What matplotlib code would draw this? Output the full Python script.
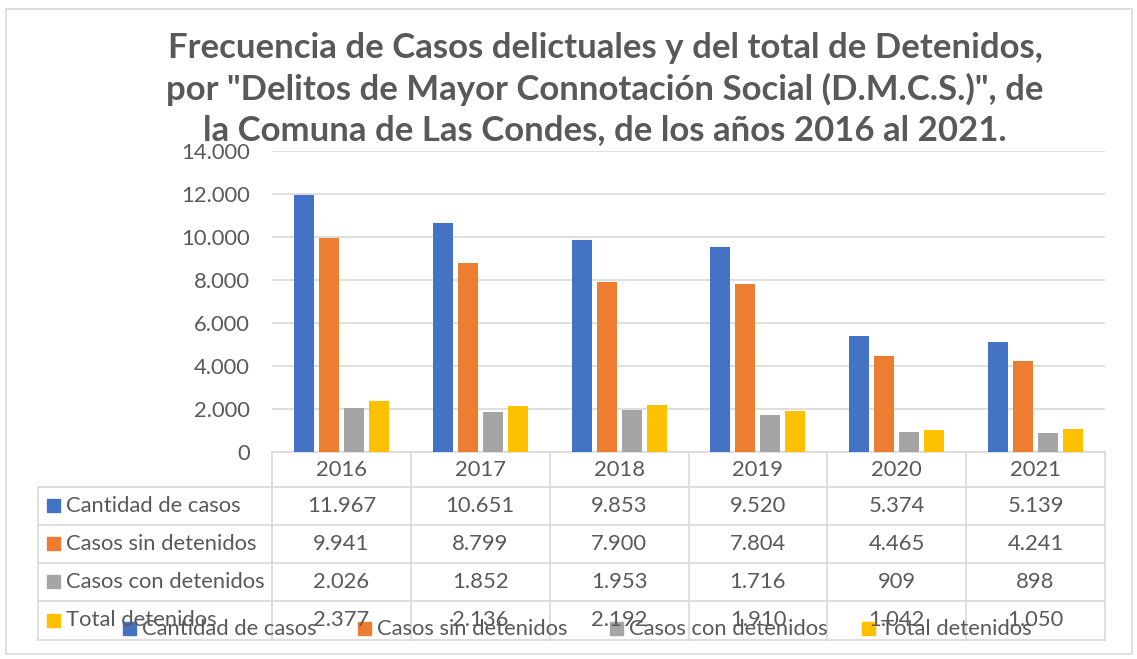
import matplotlib
matplotlib.use("Agg")
import matplotlib.pyplot as plt
import numpy as np

years = ["2016", "2017", "2018", "2019", "2020", "2021"]
series_names = ["Cantidad de casos", "Casos sin detenidos", "Casos con detenidos", "Total detenidos"]
cantidad_casos = [11967, 10651, 9853, 9520, 5374, 5139]
casos_sin_detenidos = [9941, 8799, 7900, 7804, 4465, 4241]
casos_con_detenidos = [2026, 1852, 1953, 1716, 909, 898]
total_detenidos = [2377, 2136, 2192, 1910, 1042, 1050]
series_values = [cantidad_casos, casos_sin_detenidos, casos_con_detenidos, total_detenidos]
colors = ["#4472C4", "#ED7D31", "#A5A5A5", "#FFC000"]
title = ('Frecuencia de Casos delictuales y del total de Detenidos,\n'
         'por "Delitos de Mayor Connotación Social (D.M.C.S.)", de\n'
         'la Comuna de Las Condes, de los años 2016 al 2021.')

FONT = ["Lato", "DejaVu Sans"]
TXT = "#595959"
GRID = "#d9d9d9"
W, H = 1137, 659
FS = 15.8

def fmt(v):
    return f"{int(v):,}".replace(",", ".")

fig = plt.figure(figsize=(W / 100, H / 100), dpi=100)
fig.patch.set_facecolor("white")

# overlay in pixel coordinates
ov = fig.add_axes([0, 0, 1, 1], zorder=0)
ov.set_xlim(0, W)
ov.set_ylim(H, 0)
ov.axis("off")

# chart border
ov.add_patch(plt.Rectangle((6, 9), 1126, 645, fill=False, edgecolor=GRID, lw=1.2))

# plot area
px_left, px_right, px_top, px_bottom = 272, 1105, 151, 452
ax = fig.add_axes([px_left / W, 1 - px_bottom / H, (px_right - px_left) / W, (px_bottom - px_top) / H], zorder=1)
ax.patch.set_alpha(0)
x = np.arange(len(years))
bw = 0.145
step = 0.18
for i, (name, vals, c) in enumerate(zip(series_names, series_values, colors)):
    ax.bar(x + (i - 1.5) * step, vals, width=bw, color=c, zorder=3, label=name)
ax.set_xlim(-0.5, len(years) - 0.5)
ax.set_ylim(0, 14000)
ax.set_yticks(np.arange(0, 14001, 2000))
ax.set_yticklabels([fmt(v) for v in np.arange(0, 14001, 2000)], fontsize=FS, color=TXT, family=FONT)
ax.tick_params(axis="y", length=0, pad=16)
ax.set_xticks([])
ax.grid(axis="y", color=GRID, lw=1.2, zorder=0)
for s in ax.spines.values():
    s.set_visible(False)

# data table
col_w = (px_right - px_left) / len(years)
col_edges = [px_left + i * col_w for i in range(len(years) + 1)]
row_edges = [452, 487, 525, 563, 601, 640]
label_left = 38
ov.plot([px_left, px_right], [row_edges[0], row_edges[0]], color=GRID, lw=1.2)
for ry in row_edges[1:]:
    ov.plot([label_left, px_right], [ry, ry], color=GRID, lw=1.2)
for cx in col_edges:
    ov.plot([cx, cx], [row_edges[0], row_edges[-1]], color=GRID, lw=1.2)
ov.plot([label_left, label_left], [row_edges[1], row_edges[-1]], color=GRID, lw=1.2)

for j, yr in enumerate(years):
    cx = (col_edges[j] + col_edges[j + 1]) / 2
    ov.text(cx, (row_edges[0] + row_edges[1]) / 2 + 1, yr, ha="center", va="center",
            fontsize=FS, color=TXT, family=FONT)
for i, (name, vals, c) in enumerate(zip(series_names, series_values, colors)):
    cy = (row_edges[i + 1] + row_edges[i + 2]) / 2
    ov.add_patch(plt.Rectangle((47, cy - 7), 13, 13, color=c))
    ov.text(66, cy, name, ha="left", va="center", fontsize=FS, color=TXT, family=FONT)
    for j, v in enumerate(vals):
        cx = (col_edges[j] + col_edges[j + 1]) / 2
        ov.text(cx, cy, fmt(v), ha="center", va="center", fontsize=FS, color=TXT, family=FONT)

# legend (overlapping the last table row, as in the original)
leg_x = [123, 358, 610, 862]
leg_y = 629
for name, c, lx in zip(series_names, colors, leg_x):
    ov.add_patch(plt.Rectangle((lx, leg_y - 7), 13, 13, color=c))
    ov.text(lx + 19, leg_y, name, ha="left", va="center", fontsize=FS, color=TXT, family=FONT)

# title
ov.text(605, 89, title, ha="center", va="center", fontsize=25, fontweight="bold",
        color=TXT, family=FONT, linespacing=1.33)

fig.savefig("out.png", dpi=100)
